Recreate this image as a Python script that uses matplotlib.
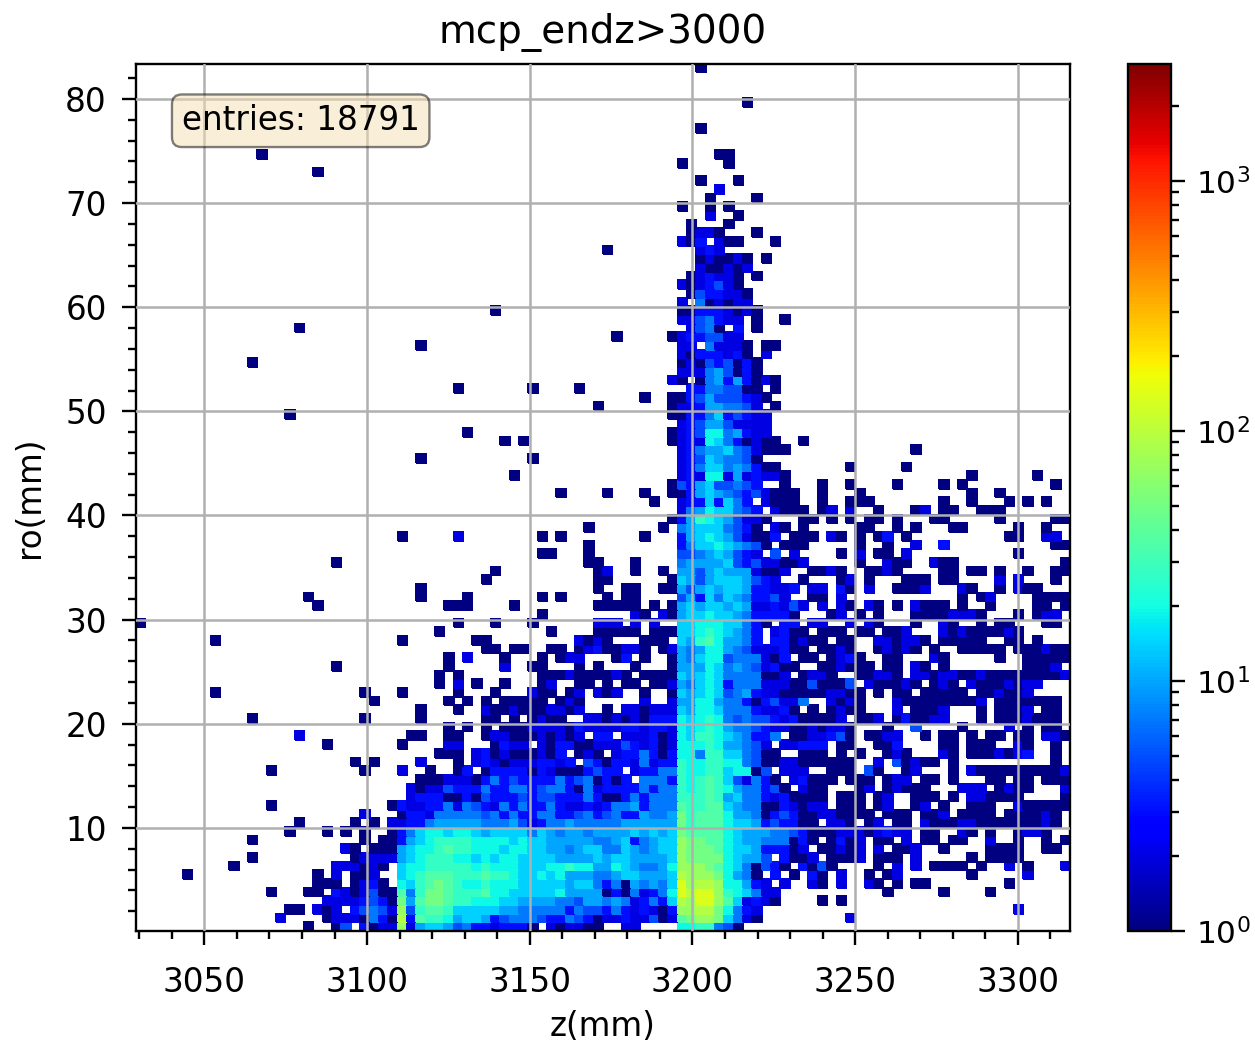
import matplotlib
matplotlib.use('Agg')
import matplotlib.pyplot as plt
import numpy as np
from matplotlib.colors import LogNorm
from matplotlib.ticker import MultipleLocator

# bin layout of the 2d histogram
z_range = (3029.0, 3316.0)
ro_range = (0.1, 83.4)
n_bins = 100

# counts for the codes used in the rows below ('.' is an empty bin)
level_codes = '123456789abcde'
level_counts = [1, 2, 3, 5, 7, 10, 14, 19, 27, 36, 50, 70, 95, 135]

# row index -> "first_col:codes" pieces
rows = {
    99: "60:1",
    95: "65:1",
    92: "60:1",
    89: "13:1 62:11",
    88: "58:1 63:1",
    87: "19:1",
    86: "60:1 64:1",
    85: "62:2",
    84: "61:1 66:1",
    83: "58:1 61:1 63:1",
    82: "61:2 64:1",
    81: "59:1 63:1",
    80: "59:1221...1",
    79: "58:213.211...1",
    78: "50:1 60:232",
    77: "60:121121.1",
    76: "60:211212",
    75: "59:123221.1",
    74: "58:2123421",
    73: "59:1433221",
    72: "58:2.512122",
    71: "38:1 58:113332121",
    70: "58:2245322.1..1",
    69: "17:1 59:2451.3.1",
    68: "51:1 57:12334422",
    67: "30:1 58:22.52221.11",
    66: "58:21333231.2",
    65: "12:1 58:121434131",
    64: "58:222564131",
    63: "57:21.156363121",
    62: "34:1 42:1 47:1 59:33554411.1",
    61: "54:1 57:11346444321",
    60: "49:1 57:1223665542.1",
    59: "16:1 57:11335734322",
    58: "58:2346642222",
    57: "35:1 57:12348856322",
    56: "39:1 41:1 57:123287531211 71:1",
    55: "58:235667542111 83:1",
    54: "30:1 42:1 58:234765541",
    53: "58:23577565311 76:1 82:1",
    52: "40:1 58:232882623221 89:1 96:1",
    51: "57:1436744543..1 73:1 76:1 81:1 86:1 88:1 98:1",
    50: "45:1 50:1 54:1 57:11367654342111 73:1 77:1 89:1 92:1",
    49: "55:1 58:23373753.2111 73:1 76:111 86:1 89:1 93:1 95:1 97:1",
    48: "58:256877543.2111 73:12 76:2 79:1 83:12 86:11 90:111",
    47: "57:13698764221 71:11 74:1 76:1 78:11 81:1 85:11 92:1 98:11",
    46: "48:1 56:1 58:567775431.21 71:1 77:11 81:1 83:1 87:11 94:1 97:1",
    45: "28:1 34:2 43:1 45:1 54:1 58:36787642113.111 74:21 77:1 79:13 82:1 93:11 97:22",
    44: "48:1 58:3577876541.111 77:1 80:1 83:2 86:3 98:11",
    43: "43:11 48:1 58:445676432.4.2 75:1 77:2 79:11 82:2 94:1",
    42: "21:1 48:11 53:1 58:56666743422112 77:1 80:211 85:211 99:1",
    41: "38:1 49:12 53:1 56:1 58:664676662112 72:1121 78:1121 86:11 89:11 92:1 95:1 98:11",
    40: "37:1 49:11 57:176467776432 71:1 75:12 78:1 82:111 86:11 92:2 94:2 98:1",
    39: "30:1 49:1 52:11 56:11 58:6467677633223 72:22 75:31 78:2 81:1112 88:21 92:1 94:211",
    38: "18:1 30:1 35:1 43:1 45:1 50:1 52:11 58:463757653342 72:11 75:2 88:1 90:12 96:1111",
    37: "19:1 33:111 40:1 49:11111 55:1 57:167677676223242 73:2 75:21 78:21 81:1 83:2111 88:1 91:1 96:11 99:1",
    36: "43:1 53:21 56:216778776533331 74:12 77:1 79:1 83:1111 87:222 90:1 94:1 96:122",
    35: "0:1 34:1 38:1 42:1 49:222 53:2 55:2 58:7788877531.33 72:22 76:2 78:21 83:1 86:21 90:1 92:11 97:11",
    34: "32:1 44:1 49:11111.111 58:778987653.2311 73:111 77:11 80:112 86:212111121",
    33: "8:1 28:1 36:11 47:212 50:1 54:111 58:769a86653.331211.11 79:221221 86:11111 93:11 96:1",
    32: "37:11 40:11 44:11 47:123 50:11221.12 58:65688654222311.1121 79:12121.1..11111.111211",
    31: "33:1 35:2 39:1 43:1 45:122 51:13 54:1 57:1 58:657884555213.11.1231 80:11 85:21 92:1 95:11111",
    30: "21:1 33:1 39:2 42:11 47:1 49:1 53:1 57:1 58:6668756542311..112111 80:11 83:21 86:1 95:1112",
    29: "32:1 34:1 43:1112111 50:121.1111 58:767875555112 71:1221 77:11221 83:22122112 91:111111112",
    28: "32:1 34:2 36:1 39:1 43:12 47:11 50:1 52:11 55:112 58:6578735552221141114 78:211121 85:121 89:21112122",
    27: "8:1 24:1 28:1 34:1 38:1 42:211 46:12 49:212 54:1 57:1 58:76787456322111112211 79:1 81:11 84:11111 90:112112",
    26: "25:1 33:1 35:1 37:1 39:11111 45:121 54:2 57:2 58:66886553134225 74:2121 81:2111111112 92:1111111",
    25: "30:1 34:1 37:21121112212 50:1 52:221222 58:7688755532231 72:1 74:1211 81:2 83:1112 90:1 92:1112 97:11",
    24: "12:1 24:1 30:1 37:11 40:1 42:1211 48:22 50:12121333 58:878985454432311112 77:112 81:131122 90:1 92:1112111",
    23: "33:1 35:1 37:1 39:111 42:22221322 50:22332332 58:8789865543221121221 80:1 83:4 88:1 93:2 95:1 97:11",
    22: "17:2 29:11 33:11 37:12211121212 49:33.22231 56:12 58:87998765335 70:1122341 78:1122 84:1 86:11 89:1 91:11 94:11 97:221",
    21: "20:1 28:1 33:22 38:1322 43:2133112 50:22432312 58:8889866542 69:22333 75:11 79:113 86:11 89:111 94:21 98:1",
    20: "32:111 36:2312111213 47:121 51:2335313 58:88599775411 71:111 75:1 77:1 80:121 86:21 89:1112123 98:1",
    19: "23:1 25:1 30:2 34:1 36:23212223323 48:43 50:13325233 58:9889988541122111111 79:2 81:41211 87:1 98:1",
    18: "14:1 24:1 28:2 31:1 34:13 37:1333313211134 50:33.23355 58:9889978814.222 74:111 78:41 82:12 87:1 89:21111111112",
    17: "30:11122213534333353451 50:313.5553 58:989a9742531 70:23111 76:111 80:122 84:11 87:1 91:11 94:11 97:111",
    16: "29:212243335335534553152 50:33335355 58:989a98655341 71:211 77:12 80:12111 88:222 92:1211 99:2",
    15: "29:233311314333434433353 50:11353555 58:999a967553231111 75:111 79:12 83:111 87:1 89:221111 99:1",
    14: "14:1 27:13223352543253533532232 50:35563555 58:a99aa76551132122 75:111 79:12 83:12 86:1 89:111 94:211111",
    13: "24:2 28:1 29:332555554535335533453 50:45336556 58:b9aaa866513431122 75:1111 80:111 84:112 88:1111 93:11112 98:1",
    12: "17:1 23:1 25:1 27:22335666665556423556555 50:55666666 58:b9aaa877634331 1 74:221 78:12 81:11 84:211122111111121",
    11: "16:1 20:1 22:1 24:1 27:13578878876777757656656 50:66676767 58:baaaa876665543111222123 22 84:11 88:21 91:1 94:1221",
    10: "12:1 24:1 26:113678999988887877666665 50:56735677 58:cbbaa8766555131 74:1312 79:11 82:2 84:11 87:11 91:2 94:1 97:1 99:1",
    9: "22:21 25:11167889a99888788776656 77 50:55765677 58:cbbba8776333 12 73:11212 79:2 81:112 86:1 91:1111 97:11",
    8: "12:1 23:1222267899988787887777666 67 50:67766667 58:cbbbb87664.3112 74:1112 79:111 83:2 89:1 91:1111",
    7: "10:1 21:222121 28:7889999989888777889 88 66 50:68765568 58:cccba87514 31.3141 79:1 81:2 83:2 85:1111 90:1 93:2 95:1 99:2",
    6: "5:1 19:1 21:2 23:112 28:789aaa999a9987787866 65 50:56776667 58:dcccb8651.3.1 72:31 75:2 78:1 80:12 89:1 95:2",
    5: "19:111 23:1231 28:879aba9889888777776775 50:35165657 58:ecddc88632.2 72:21 75:2 78:21 81:1 83:11 93:1",
    4: "14:1 18:11 21:3212411 28:a59bba999a887777786666 50:13152358 58:edeec98752 2 80:1 86:1 91:1",
    3: "20:22223431 28:b6abba9988877666 65 54 66 50:56523537 58:dceeca72321 73:1 75:1",
    2: "16:11 19:212.34542 28:c49aa977777665555535 44 50:35323213 58:ccddb8532 94:2",
    1: "15:2 20:1 21:2221531 28:d3a99867763455543354 31 50:22322412 58:abccb7521 76:2",
    0: "18:1 21:14 24:3122 28:c26776453323331.212211 52:22 58:8899541",
}

title_text = 'mcp_endz>3000'
entries_text = 'entries: 18791'
z_ticks = [3050, 3100, 3150, 3200, 3250, 3300]
ro_ticks = [10, 20, 30, 40, 50, 60, 70, 80]


def parse_row(text):
    # the pieces are "col:codes"; anything without a colon continues the piece before it
    out = {}
    col = 0
    for piece in text.split():
        if ':' in piece:
            start, codes = piece.split(':')
            col = int(start)
        else:
            codes = piece
        for c in codes:
            if c != '.' and col < n_bins:
                out[col] = level_counts[level_codes.index(c)]
            col += 1
    return out


hist = np.zeros((n_bins, n_bins))
for r, text in rows.items():
    for col, val in parse_row(text).items():
        hist[r, col] = val

z_edges = np.linspace(z_range[0], z_range[1], n_bins + 1)
ro_edges = np.linspace(ro_range[0], ro_range[1], n_bins + 1)

W, H = 1255, 1045
fig = plt.figure(figsize=(W / 100, H / 100), dpi=100)
ax = fig.add_axes([136 / W, 1 - 931 / H, (1070 - 136) / W, (931 - 63.5) / H])
cax = fig.add_axes([1128 / W, 1 - 931 / H, (1171 - 1128) / W, (931 - 63.5) / H])

# the face coloured edge makes the cells slightly fatter, like in the upscaled original
mesh = ax.pcolormesh(z_edges, ro_edges, np.ma.masked_equal(hist, 0), cmap='jet',
                     norm=LogNorm(vmin=1, vmax=2950), edgecolors='face', linewidth=1.4)
ax.set_xlim(z_range)
ax.set_ylim(ro_range)

ax.set_xticks(z_ticks)
ax.set_yticks(ro_ticks)
ax.xaxis.set_minor_locator(MultipleLocator(10))
ax.yaxis.set_minor_locator(MultipleLocator(2))
ax.tick_params(which='major', length=10, width=1.7, labelsize=23.5)
ax.tick_params(axis='x', which='major', pad=15)
ax.tick_params(axis='y', which='major', pad=11)
ax.tick_params(which='minor', length=6, width=1.7)
ax.set_axisbelow(False)
ax.grid(True, which='major', color='#b0b0b0', linewidth=1.8)
for s in ax.spines.values():
    s.set_linewidth(1.7)

ax.set_xlabel(r'z(mm)', fontsize=23.5, labelpad=8)
ax.set_ylabel(r'ro(mm)', fontsize=23.5, labelpad=14)
ax.set_title(title_text, fontsize=28, pad=15)

ax.text(0.049, 0.934, entries_text, transform=ax.transAxes, fontsize=23.5, va='center',
        bbox=dict(boxstyle='round', facecolor='wheat', alpha=0.5, linewidth=1.7))

cb = fig.colorbar(mesh, cax=cax)
cb.ax.tick_params(which='major', length=10, width=1.7, labelsize=22.5, pad=8)
cb.ax.tick_params(which='minor', length=6, width=1.7)
cb.outline.set_linewidth(1.7)

fig.savefig('out.png', dpi=100)
